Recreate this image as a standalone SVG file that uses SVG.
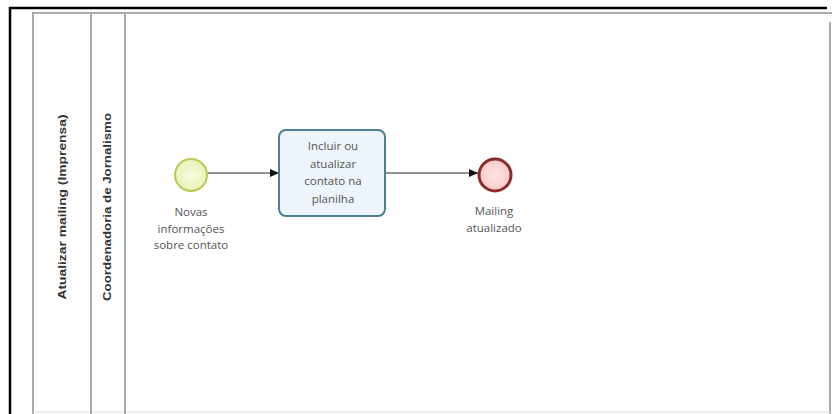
<svg xmlns="http://www.w3.org/2000/svg" width="832" height="414" viewBox="0 0 832 414">
<defs>
<style>
.lbl{font-family:"Open Sans","Liberation Sans",sans-serif;font-size:11.5px;fill:#555;text-anchor:middle}
.hdr{font-family:"Liberation Sans",Arial,sans-serif;font-size:11px;font-weight:bold;fill:#333;text-anchor:middle}
.pool{fill:none;stroke:#aaa;stroke-width:2}
.conn{fill:none;stroke:#222;stroke-width:1.2}
</style>
<marker id="arr" markerWidth="10" markerHeight="10" refX="9" refY="5" orient="auto" markerUnits="userSpaceOnUse">
<path d="M0,1 L9,5 L0,9 Z" fill="#111"/>
</marker>
<radialGradient id="gs" cx="50%" cy="50%" r="50%">
<stop offset="0" stop-color="#f8fbe0"/><stop offset="1" stop-color="#e9f3b6"/>
</radialGradient>
<radialGradient id="ge" cx="50%" cy="50%" r="50%">
<stop offset="0" stop-color="#fde6e6"/><stop offset="1" stop-color="#f7c9c9"/>
</radialGradient>
</defs>
<rect width="832" height="414" fill="#fff"/>
<path d="M10,414 V8 H827" fill="none" stroke="#000" stroke-width="2.5"/>
<g id="pool">
<path class="pool" d="M33,414 V13 H832"/>
<line class="pool" x1="830" y1="22" x2="830" y2="414"/>
<line x1="33" y1="412" x2="832" y2="412" stroke="#ddd" stroke-width="1"/>
<line class="pool" x1="91" y1="13" x2="91" y2="414"/>
<line class="pool" x1="125" y1="13" x2="125" y2="414"/>
<text class="hdr" transform="translate(66,207) rotate(-90)" textLength="185" lengthAdjust="spacingAndGlyphs">Atualizar mailing (Imprensa)</text>
<text class="hdr" transform="translate(111,207) rotate(-90)" textLength="188" lengthAdjust="spacingAndGlyphs">Coordenadoria de Jornalismo</text>
</g>
<g id="connectors">
<line class="conn" x1="208" y1="173" x2="279" y2="173" marker-end="url(#arr)"/>
<line class="conn" x1="385" y1="173" x2="478" y2="173" marker-end="url(#arr)"/>
</g>
<g id="start">
<circle cx="191" cy="175" r="16" fill="url(#gs)" stroke="#b7cc55" stroke-width="2"/>
<text class="lbl" x="191" y="216">Novas</text>
<text class="lbl" x="191" y="232.5">informações</text>
<text class="lbl" x="191" y="249">sobre contato</text>
</g>
<g id="task">
<rect x="279" y="130" width="106" height="86" rx="7" fill="#eef4fb" stroke="#4f7f93" stroke-width="2"/>
<text class="lbl" x="333" y="150">Incluir ou</text>
<text class="lbl" x="333" y="167.5">atualizar</text>
<text class="lbl" x="333" y="185">contato na</text>
<text class="lbl" x="333" y="202.5">planilha</text>
</g>
<g id="end">
<circle cx="495" cy="175" r="16" fill="url(#ge)" stroke="#8b2d2d" stroke-width="3"/>
<text class="lbl" x="494" y="215">Mailing</text>
<text class="lbl" x="494" y="232">atualizado</text>
</g>
</svg>
